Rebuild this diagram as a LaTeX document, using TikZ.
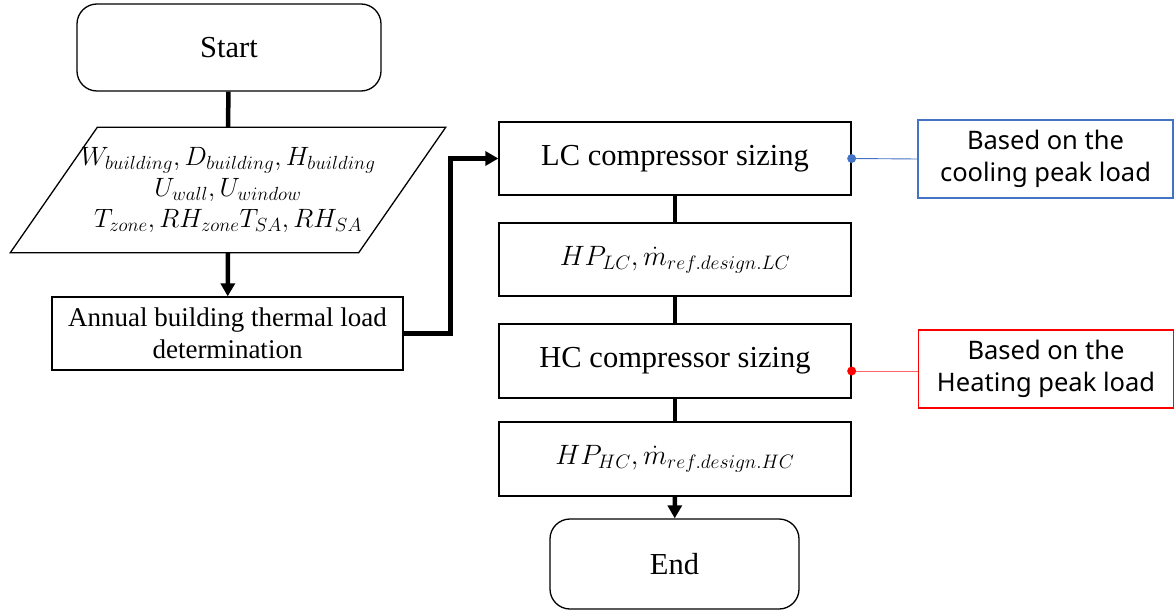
\RequirePackage{fix-cm}
\documentclass[tikz,border=0pt]{standalone}
\usepackage{fontspec}
\setmainfont{Liberation Serif}
\newfontfamily\notefont{Noto Sans}
\usetikzlibrary{arrows.meta}
\DeclareMathSizes{26.5}{26.5}{19}{14}
\DeclareMathSizes{28}{28}{19.5}{14}
\definecolor{noteblue}{HTML}{4472C4}
\definecolor{notered}{HTML}{FF0000}
\def\flow{\draw[line width=4.5pt]}
\def\link{\draw[line width=0.9pt]}
\tikzset{
  box/.style={draw,line width=1.3pt,minimum width=352pt,minimum height=73pt,inner sep=0pt,align=center,font=\fontsize{30.5}{34}\selectfont},
  term/.style={box,rounded corners=20pt},
  note/.style={draw,line width=1.3pt,minimum width=255pt,minimum height=78pt,inner sep=0pt,align=center,font=\notefont\fontsize{25.5}{32}\selectfont},
  tip/.style={-{Triangle[length=13pt,width=14pt]}},
  dot/.style={circle,fill,inner sep=0pt,minimum size=9pt}
}

\begin{document}
\begin{tikzpicture}[x=1pt,y=-1pt]
    \useasboundingbox (0,0) rectangle (1174,612);
    \node[term,minimum width=304pt,minimum height=87pt] (start) at (229,47.5) {Start};
    \node[minimum width=348pt,minimum height=125pt,inner sep=0pt,align=center,font=\fontsize{26.5}{31}\selectfont] (params) at (228,190)
        {$W_{building}, D_{building}, H_{building}$\\ $U_{wall}, U_{window}$\\ $T_{zone}, RH_{zone}T_{SA}, RH_{SA}$};
    \draw[line width=1.3pt] ([xshift=-43.5pt]params.south west) -- ([xshift=43.5pt]params.north west)
        -- ([xshift=43.5pt]params.north east) -- ([xshift=-43.5pt]params.south east) -- cycle;
    \node[box,minimum width=351pt,font=\fontsize{27}{32}\selectfont] (annual) at (227.5,333.5) {Annual building thermal load\\ determination};
    \node[box] (lc) at (675,158.5) {LC compressor sizing};
    \node[box,font=\fontsize{28}{34}\selectfont] (hplc) at (675,259.5) {$HP_{LC}, \dot{m}_{ref.design.LC}$};
    \node[box,minimum height=74pt] (hc) at (675,361) {HC compressor sizing};
    \node[box,minimum height=74pt,font=\fontsize{28}{34}\selectfont] (hphc) at (675,459) {$HP_{HC}, \dot{m}_{ref.design.HC}$};
    \node[term,minimum width=249pt,minimum height=90pt] (end) at (674.5,564) {End};
    \node[note,noteblue] (cnote) at (1045.5,159) {\textcolor{black}{Based on the}\\ \textcolor{black}{cooling peak load}};
    \node[note,notered] (hnote) at (1046,369) {\textcolor{black}{Based on the}\\ \textcolor{black}{Heating peak load}};
    % main flow
    \flow (start) -- (params.north);
    \flow[tip] (params.south) -- (annual);
    \flow[tip] (annual.east) -- ++(47,0) |- (lc.west);
    \flow (lc) -- (hplc);
    \flow (hplc) -- (hc);
    \flow (hc) -- (hphc);
    \flow[tip] (hphc) -- (end);
    % side notes
    \link[noteblue] (lc.east) node[dot] {} -- (cnote.west);
    \coordinate (hdot) at ([yshift=-2pt]hnote.west -| hc.east);
    \link[notered!60] (hdot) -- (hdot -| hnote.west);
    \node[dot,notered] at (hdot) {};
\end{tikzpicture}
\end{document}
